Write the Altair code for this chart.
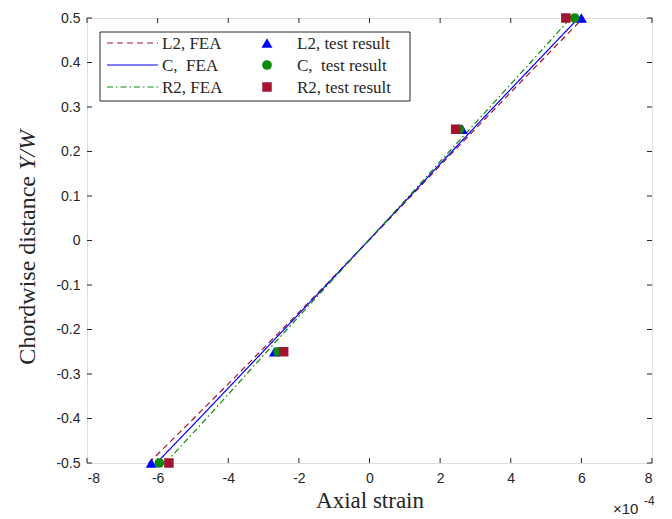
import altair as alt
import pandas as pd

# ---- data (strain in units of 1e-4) ----
fea_y = [-0.5, -0.4, -0.3, -0.2, -0.1, 0.0, 0.1, 0.2, 0.3, 0.4, 0.5]
l2_fea = [-6.25, -4.98, -3.72, -2.48, -1.24, -0.02, 1.18, 2.38, 3.60, 4.82, 6.05]
c_fea = [-6.03, -4.82, -3.62, -2.42, -1.22, -0.03, 1.15, 2.33, 3.52, 4.72, 5.92]
r2_fea = [-5.78, -4.62, -3.48, -2.34, -1.18, -0.03, 1.12, 2.26, 3.41, 4.56, 5.70]

test_y = [-0.5, -0.25, 0.25, 0.5]
l2_test = [-6.18, -2.69, 2.63, 6.00]
c_test = [-5.95, -2.59, 2.55, 5.81]
r2_test = [-5.68, -2.43, 2.44, 5.56]

x_ticks = [-8, -6, -4, -2, 0, 2, 4, 6, 8]
y_ticks = [-0.5, -0.4, -0.3, -0.2, -0.1, 0, 0.1, 0.2, 0.3, 0.4, 0.5]

RED = "#a2142f"
BLUE = "#0000ff"
GREEN = "#0a8a0a"
AX = "#262626"
SERIF = "Liberation Serif"
SANS = "Liberation Sans"

W, H = 565, 445

xs = alt.Scale(domain=[-8, 8], nice=False, zero=False)
ys = alt.Scale(domain=[-0.5, 0.5], nice=False, zero=False)

x_axis = alt.Axis(values=x_ticks, title="Axial strain", labelExpr="'' + datum.value",
                  grid=False, ticks=False, domain=False, labelFont=SANS, labelFontSize=14,
                  labelColor=AX, labelPadding=8, titleFont=SERIF, titleFontSize=23,
                  titleFontWeight="normal", titleColor=AX, titleBaseline="alphabetic",
                  titleY=44)
y_axis = alt.Axis(values=y_ticks, title=None, labelExpr="'' + datum.value",
                  grid=False, ticks=False, domain=False, labelFont=SANS, labelFontSize=14,
                  labelColor=AX, labelPadding=7)

X = lambda f: alt.X(f, scale=xs, axis=x_axis)
Y = lambda f: alt.Y(f, scale=ys, axis=y_axis)


def fea_df(vals):
    return pd.DataFrame({"strain": vals, "y": fea_y})


def test_df(vals):
    return pd.DataFrame({"strain": vals, "y": test_y})


def line_layer(vals, color, dash):
    return alt.Chart(fea_df(vals)).mark_line(color=color, strokeWidth=1.2, strokeDash=dash).encode(
        x=X("strain:Q"), y=Y("y:Q"), order="y:Q",
    )


def point_layer(vals, color, shape, size):
    return alt.Chart(test_df(vals)).mark_point(color=color, fill=color, filled=True, opacity=1,
                                               shape=shape, size=size).encode(
        x=X("strain:Q"), y=Y("y:Q"),
    )


lines = [
    line_layer(l2_fea, RED, [6, 4]),
    line_layer(c_fea, BLUE, [1, 0]),
    line_layer(r2_fea, GREEN, [6, 3, 1.5, 3]),
]
points = [
    point_layer(l2_test, BLUE, "triangle-up", 120),
    point_layer(c_test, GREEN, "circle", 95),
    point_layer(r2_test, RED, "square", 90),
]

# inward ticks (box style)
xt = pd.DataFrame({"strain": x_ticks})
yt = pd.DataFrame({"y": y_ticks})
tick_layers = [
    alt.Chart(xt).mark_rule(color=AX, strokeWidth=1).encode(
        x=X("strain:Q"), y=alt.value(H), y2=alt.value(H - 5)),
    alt.Chart(xt).mark_rule(color=AX, strokeWidth=1).encode(
        x=X("strain:Q"), y=alt.value(0), y2=alt.value(5)),
    alt.Chart(yt).mark_rule(color=AX, strokeWidth=1).encode(
        y=Y("y:Q"), x=alt.value(0), x2=alt.value(5)),
    alt.Chart(yt).mark_rule(color=AX, strokeWidth=1).encode(
        y=Y("y:Q"), x=alt.value(W), x2=alt.value(W - 5)),
]

one = pd.DataFrame({"a": [0]})

# legend
leg = [
    alt.Chart(one).mark_rect(fill="white", stroke=AX, strokeWidth=1).encode(
        x=alt.value(13), x2=alt.value(323), y=alt.value(14), y2=alt.value(83)),
]
rows = [25, 47, 69]
leg_lines = [(RED, [6, 4]), (BLUE, [1, 0]), (GREEN, [6, 3, 1.5, 3])]
leg_left = ["L2, FEA", "C,\u00a0 FEA", "R2, FEA"]
leg_pts = [(BLUE, "triangle-up", 120), (GREEN, "circle", 95), (RED, "square", 90)]
leg_right = ["L2, test result", "C,\u00a0 test result", "R2, test result"]
for r, (c, d), tl, (pc, ps, pz), tr in zip(rows, leg_lines, leg_left, leg_pts, leg_right):
    leg.append(alt.Chart(one).mark_rule(color=c, strokeWidth=1.2, strokeDash=d).encode(
        x=alt.value(20), x2=alt.value(71), y=alt.value(r)))
    leg.append(alt.Chart(one).mark_text(text=tl, font=SERIF, fontSize=17, color=AX, align="left",
                                        baseline="middle").encode(x=alt.value(75), y=alt.value(r + 1)))
    leg.append(alt.Chart(one).mark_point(color=pc, fill=pc, filled=True, opacity=1, shape=ps,
                                         size=pz).encode(x=alt.value(180), y=alt.value(r)))
    leg.append(alt.Chart(one).mark_text(text=tr, font=SERIF, fontSize=17, color=AX, align="left",
                                        baseline="middle").encode(x=alt.value(210), y=alt.value(r + 1)))

# y-axis title with italic Y/W
JOINT = 152  # plot-y of the join between the two parts
ytitle = [
    alt.Chart(one).mark_text(text="Chordwise distance", font=SERIF, fontSize=24, color=AX,
                             angle=270, align="right", baseline="middle").encode(
        x=alt.value(-59), y=alt.value(JOINT + 6)),
    alt.Chart(one).mark_text(text="Y/W", font=SERIF, fontSize=24, fontStyle="italic", color=AX,
                             angle=270, align="left", baseline="middle").encode(
        x=alt.value(-59), y=alt.value(JOINT)),
]

# exponent label
expo = [
    alt.Chart(one).mark_text(text="\u00d710", font=SANS, fontSize=15, color=AX, align="left",
                             baseline="middle").encode(x=alt.value(526), y=alt.value(491)),
    alt.Chart(one).mark_text(text="-4", font=SANS, fontSize=12, color=AX, align="left",
                             baseline="middle").encode(x=alt.value(557), y=alt.value(483)),
]

chart = alt.layer(*lines, *tick_layers, *points, *leg, *ytitle, *expo).properties(
    width=W, height=H,
    autosize=alt.AutoSizeParams(type="none"),
    padding={"left": 87, "top": 18, "right": 20, "bottom": 56},
).configure_view(stroke=AX, strokeWidth=1.2).configure(background="white")

chart.save("out.html", embed_options={"renderer": "svg", "actions": False})
